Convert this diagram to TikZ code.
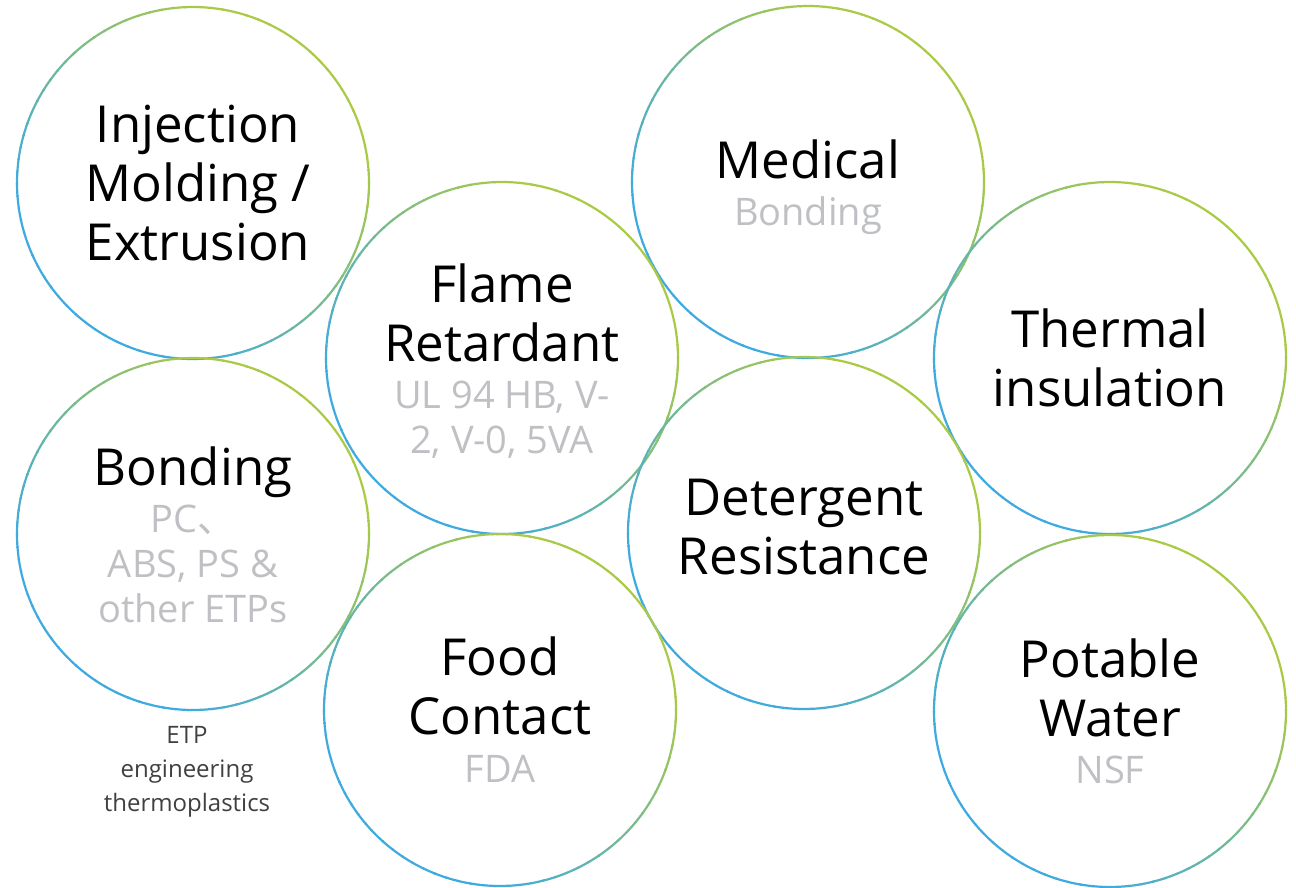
\documentclass[tikz,border=0pt]{standalone}
\usepackage{fontspec}
\setmainfont{Open Sans}
\newfontfamily\cjk{Noto Sans CJK SC}
\usepackage{tikz}

\definecolor{ringblue}{RGB}{62,170,224}
\definecolor{ringgreen}{RGB}{170,202,70}
\definecolor{subgray}{RGB}{191,192,196}
\definecolor{notegray}{RGB}{64,64,64}

\begin{document}
\begin{tikzpicture}[x=1pt, y=-1pt,
    ring/.style={circle, minimum size=352pt, inner sep=0pt},
    title/.style={anchor=north, align=center, inner sep=0pt, font=\fontsize{51}{59}\selectfont},
    sub/.style={anchor=north, align=center, inner sep=0pt, text=subgray, font=\fontsize{38}{45}\selectfont},
    note/.style={anchor=north, align=center, inner sep=0pt, text=notegray, font=\fontsize{24}{34}\selectfont}
]
\useasboundingbox (0,0) rectangle (1296,887);

% Circles
\node[ring] (inj) at (193,183) {};
\node[ring] (med) at (808,182) {};
\node[ring] (flame) at (502,358) {};
\node[ring] (therm) at (1110,358) {};
\node[ring] (bond) at (193,534) {};
\node[ring] (deter) at (804,533) {};
\node[ring] (food) at (500,710) {};
\node[ring] (water) at (1110,711) {};

% Rings, blue at lower left to green at upper right
\foreach \n in {inj,med,flame,therm,bond,deter,food,water}
  \foreach \a in {0,4,...,356} {
    \pgfmathsetmacro\t{max(0,min(100,50+65*sin(\a+47)))}
    \draw[line width=2.2pt, ringgreen!\t!ringblue] (\n.center) ++(\a:176pt) arc[start angle=\a, end angle=\a+4.5, radius=176pt];
  }

% Titles
\node[title] (injT) at (198,101) {\strut Injection\\Molding /\\Extrusion};
\node[title] (medT) at (808,137) {\strut Medical};
\node[title] (flameT) at (502,261) {\strut Flame\\Retardant};
\node[title] (thermT) at (1110,306) {\strut Thermal\\insulation};
\node[title] (bondT) at (193,444) {\strut Bonding};
\node[title] (deterT) at (804,474) {\strut Detergent\\Resistance};
\node[title] (foodT) at (500,634) {\strut Food\\Contact};
\node[title] (waterT) at (1110,636) {\strut Potable\\Water};

% Sub texts
\node[sub] (medS) at (808,193.5) {\strut Bonding};
\node[sub] (flameS) at (502,376.5) {\strut UL 94 HB, V-\\2, V-0, 5VA};
\node[sub] (bondS) at (193,500.5) {\strut PC{\cjk 、}\\ABS, PS \&\\other ETPs};
\node[sub] (foodS) at (500,750.5) {\strut FDA};
\node[sub] (waterS) at (1110,751.5) {\strut NSF};

% Note
\node[note] (etp) at (187,719.2) {\strut ETP\\engineering\\thermoplastics};

\end{tikzpicture}
\end{document}
